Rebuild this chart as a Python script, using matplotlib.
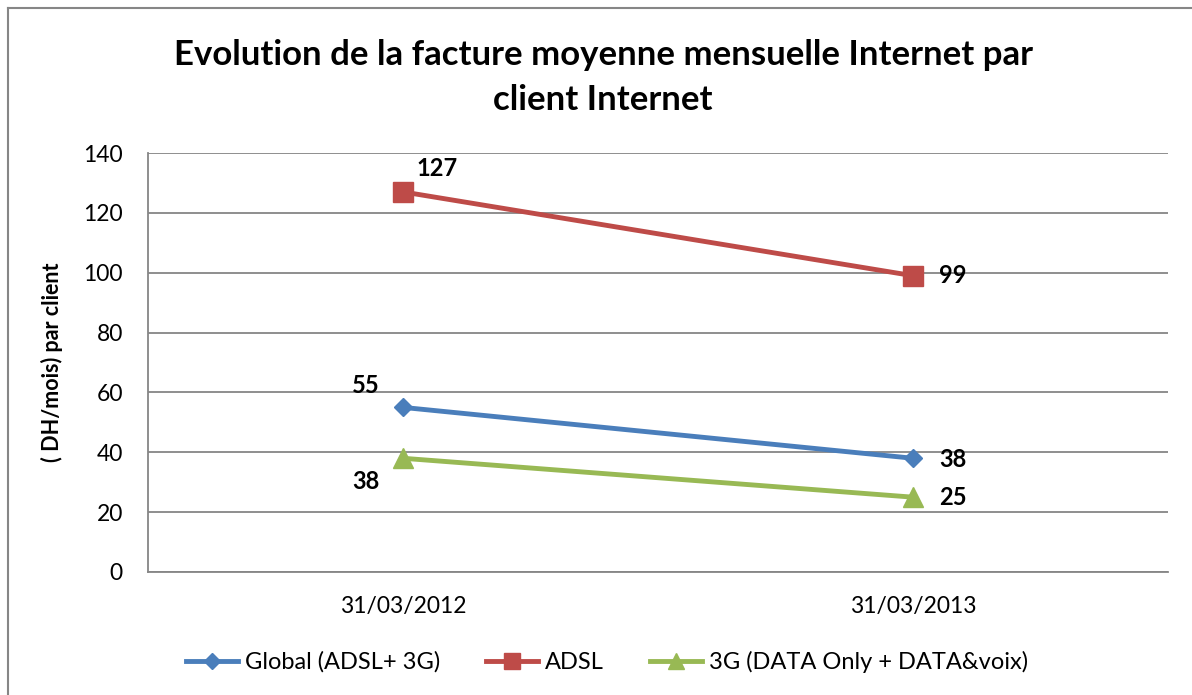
import matplotlib.pyplot as plt
from matplotlib.lines import Line2D

plt.rcParams['font.family'] = ['Lato', 'DejaVu Sans']

dates = ['31/03/2012', '31/03/2013']
global_vals = [55, 38]
adsl_vals = [127, 99]
g3_vals = [38, 25]
series_names = ['Global (ADSL+ 3G)', 'ADSL', '3G (DATA Only + DATA&voix)']

blue = '#4A7EBB'
red = '#BE4B48'
green = '#98B954'

fig = plt.figure(figsize=(11.92, 6.95), dpi=100)
ax = fig.add_axes([148 / 1192, 1 - 572 / 695, 1020 / 1192, 419 / 695])

x = [0, 1]
ax.plot(x, global_vals, color=blue, lw=3.5, marker='D', ms=9, label=series_names[0])
ax.plot(x, adsl_vals, color=red, lw=3.5, marker='s', ms=14, label=series_names[1])
ax.plot(x, g3_vals, color=green, lw=3.5, marker='^', ms=14, label=series_names[2])

ax.set_xlim(-0.5, 1.5)
ax.set_ylim(0, 140)
ax.set_yticks(range(0, 141, 20))
ax.set_xticks(x)
ax.set_xticklabels(dates)
ax.tick_params(length=0, labelsize=16.5, colors='black')
ax.tick_params(axis='y', pad=18)
ax.tick_params(axis='x', pad=17)
ax.grid(axis='y', color='#868686', lw=1.3)
ax.set_axisbelow(True)
for s in ['top', 'right']:
    ax.spines[s].set_visible(False)
for s in ['left', 'bottom']:
    ax.spines[s].set_color('#868686')
    ax.spines[s].set_linewidth(1.3)

ax.set_ylabel('( DH/mois) par client', fontsize=15.5, fontweight='bold')
ax.yaxis.set_label_coords((63 - 148) / 1020, 0.5)

lab = dict(fontsize=17, fontweight='bold', va='center')
ax.annotate(str(adsl_vals[0]), (0, adsl_vals[0]), xytext=(10, 17), textcoords='offset points', ha='left', **lab)
ax.annotate(str(adsl_vals[1]), (1, adsl_vals[1]), xytext=(19, 0), textcoords='offset points', ha='left', **lab)
ax.annotate(str(global_vals[0]), (0, global_vals[0]), xytext=(-17, 16), textcoords='offset points', ha='right', **lab)
ax.annotate(str(global_vals[1]), (1, global_vals[1]), xytext=(19, -1), textcoords='offset points', ha='left', **lab)
ax.annotate(str(g3_vals[0]), (0, g3_vals[0]), xytext=(-17, -17), textcoords='offset points', ha='right', **lab)
ax.annotate(str(g3_vals[1]), (1, g3_vals[1]), xytext=(19, 0), textcoords='offset points', ha='left', **lab)

fig.text(603 / 1192, 1 - 55 / 695, 'Evolution de la facture moyenne mensuelle Internet par',
         ha='center', va='center', fontsize=25, fontweight='bold')
fig.text(603 / 1192, 1 - 100 / 695, 'client Internet',
         ha='center', va='center', fontsize=25, fontweight='bold')

fig.legend(loc='center', bbox_to_anchor=(607 / 1192, 1 - 662 / 695), ncol=3, frameon=False,
           fontsize=17, handlelength=2.2, handletextpad=0.3, columnspacing=1.95, markerscale=0.85)

fig.add_artist(Line2D([8 / 1192, 1], [1 - 8 / 695, 1 - 8 / 695], color='#868686', lw=1.5))
fig.add_artist(Line2D([8 / 1192, 8 / 1192], [0, 1 - 8 / 695], color='#868686', lw=1.5))

fig.savefig('out.png', dpi=100)
